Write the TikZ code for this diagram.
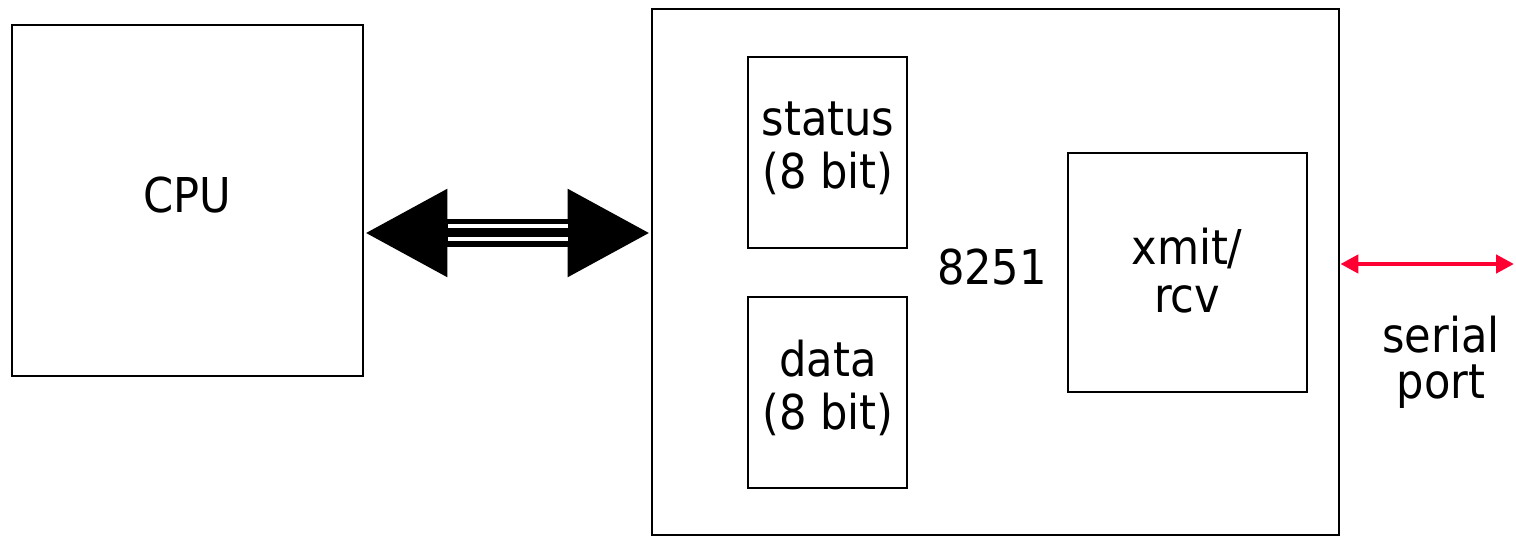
\documentclass[tikz,border=0pt]{standalone}
\usepackage{fontspec}
\setmainfont{DejaVu Sans Condensed}
\usetikzlibrary{arrows.meta}
\definecolor{serialred}{RGB}{255,0,51}
\tikzset{
  x=1pt, y=1pt,
  box/.style={draw=black, line width=2.8pt, inner sep=0pt},
  lbl/.style={inner sep=0pt, align=center, anchor=base,
    font=\fontsize{48pt}{53pt}\selectfont},
  bushead/.tip={Triangle[length=83pt 0, width=82pt 0]},
  bus/.style={line width=28pt, {bushead}-{bushead}},
  busgap/.style={draw=white, line width=4pt},
  serialhead/.tip={Triangle[length=18pt 0, width=18pt 0]},
  serial/.style={serialred, line width=4.5pt, {serialhead}-{serialhead}}
}
\begin{document}
\begin{tikzpicture}
\useasboundingbox (0,0) rectangle (1516,-537);

% processor
\node[box, minimum width=351pt, minimum height=351pt] (cpu) at (187.5,-200.5) {};
\node[lbl] (cputxt) at (187,-213) {CPU};

% 8251 chip and its registers
\node[box, minimum width=687pt, minimum height=526pt] (chip) at (995.5,-272) {};
\node[box, minimum width=159pt, minimum height=191pt] (status) at (827.5,-152.5) {};
\node[box, minimum width=159pt, minimum height=191pt] (data) at (827.5,-392.5) {};
\node[box, minimum width=239pt, minimum height=239pt] (xmit) at (1187.5,-272.5) {};
\node[lbl] (statustxt) at (828,-189) {status\\(8 bit)};
\node[lbl] (datatxt) at (828,-429) {data\\(8 bit)};
\node[lbl] (chiptxt) at (992,-285) {8251};
\node[lbl, font=\fontsize{48pt}{48pt}\selectfont] (xmittxt) at (1187,-313) {xmit/\\rcv};
\node[lbl, font=\fontsize{48pt}{46pt}\selectfont] (porttxt) at (1441,-399) {serial\\port};

% system bus between CPU and chip
\coordinate (busL) at (cpu.east |- 0,-233);
\coordinate (busR) at (chip.west |- 0,-233);
\draw[bus] (busL) -- (busR);
\coordinate (gapL) at (448,-233);
\coordinate (gapR) at (568,-233);
\draw[busgap] ([yshift=6.5pt]gapL) -- ([yshift=6.5pt]gapR);
\draw[busgap] ([yshift=-6.5pt]gapL) -- ([yshift=-6.5pt]gapR);

% serial line
\coordinate (portend) at (1514,-264);
\draw[serial] (chip.east |- portend) -- (portend);
\end{tikzpicture}
\end{document}
